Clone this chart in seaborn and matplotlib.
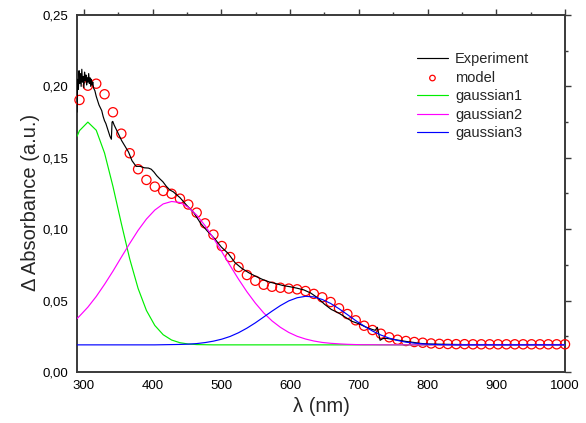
import numpy as np
import pandas as pd
import matplotlib
matplotlib.use("Agg")
import matplotlib.pyplot as plt
from matplotlib.ticker import MultipleLocator, FixedLocator, FixedFormatter
import seaborn as sns

# ---------------- data ----------------
exp_wl = [290, 291, 292, 293, 294, 295, 296, 297, 298, 299, 300, 301, 302, 303, 304,
          305, 306, 307, 308, 309, 310, 311, 312, 313, 314, 316, 318, 320, 322, 324,
          326, 328, 330, 332, 334, 336, 338, 340, 341, 342, 344, 347, 350, 355, 360,
          365, 370, 376, 382, 388, 394, 398, 402, 406, 410, 415, 420, 425, 430, 440,
          450, 460, 470, 480, 490, 500, 510, 520, 530, 540, 550, 560, 570, 580, 590,
          600, 610, 620, 630, 640, 650, 660, 670, 680, 690, 700, 710, 720, 724, 727,
          731, 735, 740, 745, 750, 760, 770, 780, 790, 800, 850, 900, 950, 1000]
exp_abs = [0.182, 0.205, 0.198, 0.211, 0.202, 0.209, 0.200, 0.212, 0.203, 0.207, 0.199,
           0.210, 0.204, 0.208, 0.201, 0.206, 0.203, 0.209, 0.202, 0.206, 0.200, 0.205,
           0.201, 0.203, 0.199, 0.197, 0.193, 0.190, 0.187, 0.185, 0.183, 0.179, 0.176,
           0.174, 0.171, 0.168, 0.165, 0.163, 0.175, 0.1755, 0.173, 0.170, 0.167, 0.162,
           0.158, 0.154, 0.148, 0.1440, 0.1440, 0.1430, 0.1428, 0.1420, 0.1400, 0.1375,
           0.1355, 0.1332, 0.1300, 0.1275, 0.1262, 0.1220, 0.1165, 0.1115, 0.1040,
           0.0985, 0.0935, 0.0875, 0.0830, 0.0765, 0.0725, 0.0695, 0.0670, 0.0648,
           0.0630, 0.0618, 0.0605, 0.0597, 0.0587, 0.0575, 0.0553, 0.0520, 0.0475,
           0.0438, 0.0415, 0.0385, 0.0355, 0.0338, 0.0315, 0.0297, 0.0292, 0.0313,
           0.0222, 0.0234, 0.0236, 0.0232, 0.0228, 0.0221, 0.0213, 0.0207, 0.0200,
           0.0196, 0.0192, 0.0192, 0.0192, 0.0192]

model_wl = [293.6, 305.8, 318.0, 330.1, 342.3, 354.5, 366.7, 378.9, 391.0, 403.2,
            415.4, 427.6, 439.8, 451.9, 464.1, 476.3, 488.5, 500.7, 512.8, 525.0,
            537.2, 549.4, 561.6, 573.7, 585.9, 598.1, 610.3, 622.5, 634.6, 646.8,
            659.0, 671.2, 683.4, 695.5, 707.7, 719.9, 732.1, 744.3, 756.4, 768.6,
            780.8, 793.0, 805.2, 817.3, 829.5, 841.7, 853.9, 866.1, 878.2, 890.4,
            902.6, 914.8, 927.0, 939.1, 951.3, 963.5, 975.7, 987.9, 1000.0]
model_abs = [0.1905, 0.2005, 0.2019, 0.1945, 0.1819, 0.1669, 0.1532, 0.1420, 0.1345,
             0.1298, 0.1268, 0.1248, 0.1214, 0.1173, 0.1116, 0.1041, 0.0962, 0.0882,
             0.0805, 0.0735, 0.0679, 0.0639, 0.0611, 0.0597, 0.0590, 0.0584, 0.0579,
             0.0567, 0.0547, 0.0523, 0.0490, 0.0446, 0.0406, 0.0362, 0.0324, 0.0294,
             0.0268, 0.0243, 0.0226, 0.0217, 0.0210, 0.0205, 0.0200, 0.0197, 0.0196,
             0.0195, 0.0195, 0.0194, 0.0194, 0.0194, 0.0194, 0.0194, 0.0194, 0.0194,
             0.0194, 0.0194, 0.0194, 0.0194, 0.0194]

gauss_wl = [290.0] + model_wl
gauss1 = [0.1650, 0.1690, 0.1750, 0.1693, 0.1533, 0.1300, 0.1040, 0.0792, 0.0585,
          0.0431, 0.0326, 0.0261, 0.0224, 0.0205, 0.0196, 0.0192, 0.0191, 0.0190,
          0.0190, 0.0190, 0.0190, 0.0190, 0.0190, 0.0190, 0.0190, 0.0190, 0.0190,
          0.0190, 0.0190, 0.0190, 0.0190, 0.0190, 0.0190, 0.0190, 0.0190, 0.0190,
          0.0190, 0.0190, 0.0190, 0.0190, 0.0190, 0.0190, 0.0190, 0.0190, 0.0190,
          0.0190, 0.0190, 0.0190, 0.0190, 0.0190, 0.0190, 0.0190, 0.0190, 0.0190,
          0.0190, 0.0190, 0.0190, 0.0190, 0.0190, 0.0190]
gauss2 = [0.0374, 0.0391, 0.0454, 0.0529, 0.0614, 0.0706, 0.0804, 0.0900, 0.0992,
          0.1071, 0.1134, 0.1177, 0.1194, 0.1187, 0.1154, 0.1099, 0.1025, 0.0937,
          0.0842, 0.0745, 0.0650, 0.0562, 0.0483, 0.0414, 0.0358, 0.0313, 0.0277,
          0.0250, 0.0231, 0.0217, 0.0207, 0.0201, 0.0197, 0.0194, 0.0192, 0.0191,
          0.0191, 0.0190, 0.0190, 0.0190, 0.0190, 0.0190, 0.0190, 0.0190, 0.0190,
          0.0190, 0.0190, 0.0190, 0.0190, 0.0190, 0.0190, 0.0190, 0.0190, 0.0190,
          0.0190, 0.0190, 0.0190, 0.0190, 0.0190, 0.0190]
gauss3 = [0.0190, 0.0190, 0.0190, 0.0190, 0.0190, 0.0190, 0.0190, 0.0190, 0.0190,
          0.0190, 0.0190, 0.0191, 0.0192, 0.0193, 0.0195, 0.0199, 0.0206, 0.0216,
          0.0230, 0.0249, 0.0275, 0.0307, 0.0344, 0.0385, 0.0426, 0.0465, 0.0498,
          0.0520, 0.0530, 0.0526, 0.0508, 0.0480, 0.0443, 0.0402, 0.0360, 0.0322,
          0.0287, 0.0259, 0.0237, 0.0221, 0.0209, 0.0202, 0.0197, 0.0194, 0.0192,
          0.0191, 0.0190, 0.0190, 0.0190, 0.0190, 0.0190, 0.0190, 0.0190, 0.0190,
          0.0190, 0.0190, 0.0190, 0.0190, 0.0190, 0.0190]

x_ticks = [300, 400, 500, 600, 700, 800, 900, 1000]
x_tick_labels = ["300", "400", "500", "600", "700", "800", "900", "1000"]
y_ticks = [0.00, 0.05, 0.10, 0.15, 0.20, 0.25]
y_tick_labels = ["0,00", "0,05", "0,10", "0,15", "0,20", "0,25"]

# ---------------- figure ----------------
sns.set_theme(style="white")
plt.rcParams["font.family"] = ["Liberation Sans", "DejaVu Sans"]

fig = plt.figure(figsize=(5.86, 4.23), dpi=100)
ax = fig.add_axes([77 / 586, 1 - 372 / 423, (565 - 77) / 586, (372 - 15) / 423])

df_exp = pd.DataFrame({"wl": exp_wl, "abs": exp_abs})
df_model = pd.DataFrame({"wl": model_wl, "abs": model_abs})
df_g = pd.DataFrame({"wl": gauss_wl, "g1": gauss1, "g2": gauss2, "g3": gauss3})

sns.scatterplot(data=df_model, x="wl", y="abs", ax=ax, marker="o", s=44,
                facecolor="none", edgecolor="#ff0000", linewidth=0.9,
                label="model", zorder=3, clip_on=False)
sns.lineplot(data=df_exp, x="wl", y="abs", ax=ax, color="black", linewidth=0.85,
             sort=False, estimator=None, label="Experiment", zorder=4)
sns.lineplot(data=df_g, x="wl", y="g1", ax=ax, color="#00ee00", linewidth=0.85,
             sort=False, estimator=None, label="gaussian1", zorder=5)
sns.lineplot(data=df_g, x="wl", y="g2", ax=ax, color="#ff00ff", linewidth=0.85,
             sort=False, estimator=None, label="gaussian2", zorder=5)
sns.lineplot(data=df_g, x="wl", y="g3", ax=ax, color="#0000ff", linewidth=0.85,
             sort=False, estimator=None, label="gaussian3", zorder=5)

ax.set_xlim(290, 1000)
ax.set_ylim(0.0, 0.25)

ax.xaxis.set_major_locator(FixedLocator(x_ticks))
ax.xaxis.set_major_formatter(FixedFormatter(x_tick_labels))
ax.xaxis.set_minor_locator(MultipleLocator(50))
ax.yaxis.set_major_locator(FixedLocator(y_ticks))
ax.yaxis.set_major_formatter(FixedFormatter(y_tick_labels))
ax.yaxis.set_minor_locator(MultipleLocator(0.025))

for sp in ax.spines.values():
    sp.set_visible(True)
    sp.set_color("#3a3a3a")
    sp.set_linewidth(1.4)

ax.tick_params(which="both", direction="out", top=True, right=True,
               labeltop=False, labelright=False, color="#3a3a3a",
               labelsize=9.5, labelcolor="black", pad=2)
ax.tick_params(which="major", length=4, width=1.0)
ax.tick_params(which="minor", length=2.5, width=1.0)

ax.set_xlabel("λ (nm)", fontsize=14.5, labelpad=3)
ax.set_ylabel("Δ Absorbance (a.u.)", fontsize=14.5)
ax.yaxis.set_label_coords(-0.076, 0.476)

handles, labels = ax.get_legend_handles_labels()
order = ["Experiment", "model", "gaussian1", "gaussian2", "gaussian3"]
hmap = dict(zip(labels, handles))
leg = ax.legend([hmap[k] for k in order], order, loc="upper left",
                bbox_to_anchor=(0.697, 0.895), frameon=False, fontsize=10.5,
                handlelength=2.1, handletextpad=0.5, labelspacing=0.3,
                borderpad=0, borderaxespad=0, markerscale=0.6)

fig.savefig("out.png", dpi=100, facecolor="white")
